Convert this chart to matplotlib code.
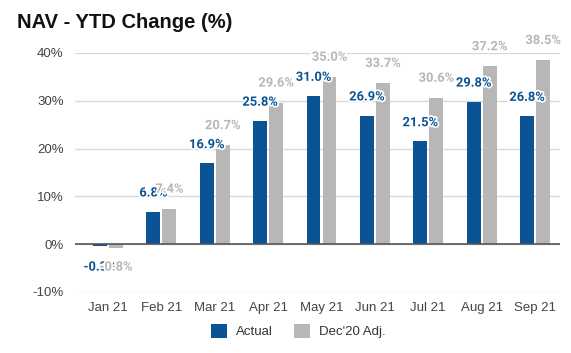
import numpy as np
import matplotlib.pyplot as plt
import matplotlib.patheffects as pe

months = ['Jan 21', 'Feb 21', 'Mar 21', 'Apr 21', 'May 21', 'Jun 21', 'Jul 21', 'Aug 21', 'Sep 21']
actual = [-0.3, 6.8, 16.9, 25.8, 31.0, 26.9, 21.5, 29.8, 26.8]
dec_adj = [-0.8, 7.4, 20.7, 29.6, 35.0, 33.7, 30.6, 37.2, 38.5]

blue = '#0b5394'
grey = '#b7b7b7'

plt.rcParams['font.family'] = ['Liberation Sans', 'DejaVu Sans']

fig = plt.figure(figsize=(5.71, 3.53), dpi=100)
ax = fig.add_axes([0.131, 0.173, 0.849, 0.677])

x = np.arange(len(months))
w = 0.26
off = 0.15
ax.bar(x - off, actual, w, color=blue, label='Actual', zorder=3)
ax.bar(x + off, dec_adj, w, color=grey, label="Dec'20 Adj.", zorder=3)

# labels with white halo, grey ones drawn on top (as in the source)
stroke = [pe.withStroke(linewidth=2.5, foreground='white')]
for i in range(len(months)):
    a = actual[i]
    d = dec_adj[i]
    ya = a + 3.9 if a >= 0 else a - 4.5
    yd = d + 4.1 if d >= 0 else d - 4.0
    ax.text(x[i] - off, ya, '%.1f%%' % a, ha='center', va='center', fontsize=9.3,
            fontweight='bold', color=blue, family='Roboto', path_effects=stroke, zorder=5)
    ax.text(x[i] + off, yd, '%.1f%%' % d, ha='center', va='center', fontsize=9.3,
            fontweight='bold', color=grey, family='Roboto', path_effects=stroke, zorder=6)

ax.set_ylim(-10, 40)
ax.set_xlim(-0.62, 8.46)
ax.set_yticks([-10, 0, 10, 20, 30, 40])
ax.set_yticklabels(['%d%%' % v for v in [-10, 0, 10, 20, 30, 40]])
ax.set_xticks(x)
ax.set_xticklabels(months)
ax.tick_params(length=0, labelsize=9.5, colors='#444444')
ax.tick_params(axis='x', pad=7)
ax.tick_params(axis='y', pad=8)
ax.grid(axis='y', color='#d9d9d9', linewidth=1, zorder=0)
ax.axhline(0, color='#555555', linewidth=1.2, zorder=4)
for s in ax.spines.values():
    s.set_visible(False)

fig.text(0.03, 0.937, 'NAV - YTD Change (%)', fontsize=14.5, fontweight='bold',
         color='#111111', va='center')

fig.legend(loc='center', bbox_to_anchor=(0.523, 0.062), ncol=2, frameon=False,
           fontsize=9.5, handlelength=1.2, handleheight=1.2, handletextpad=0.7,
           columnspacing=1.6, labelcolor='#333333')

fig.savefig('out.png', dpi=100)
